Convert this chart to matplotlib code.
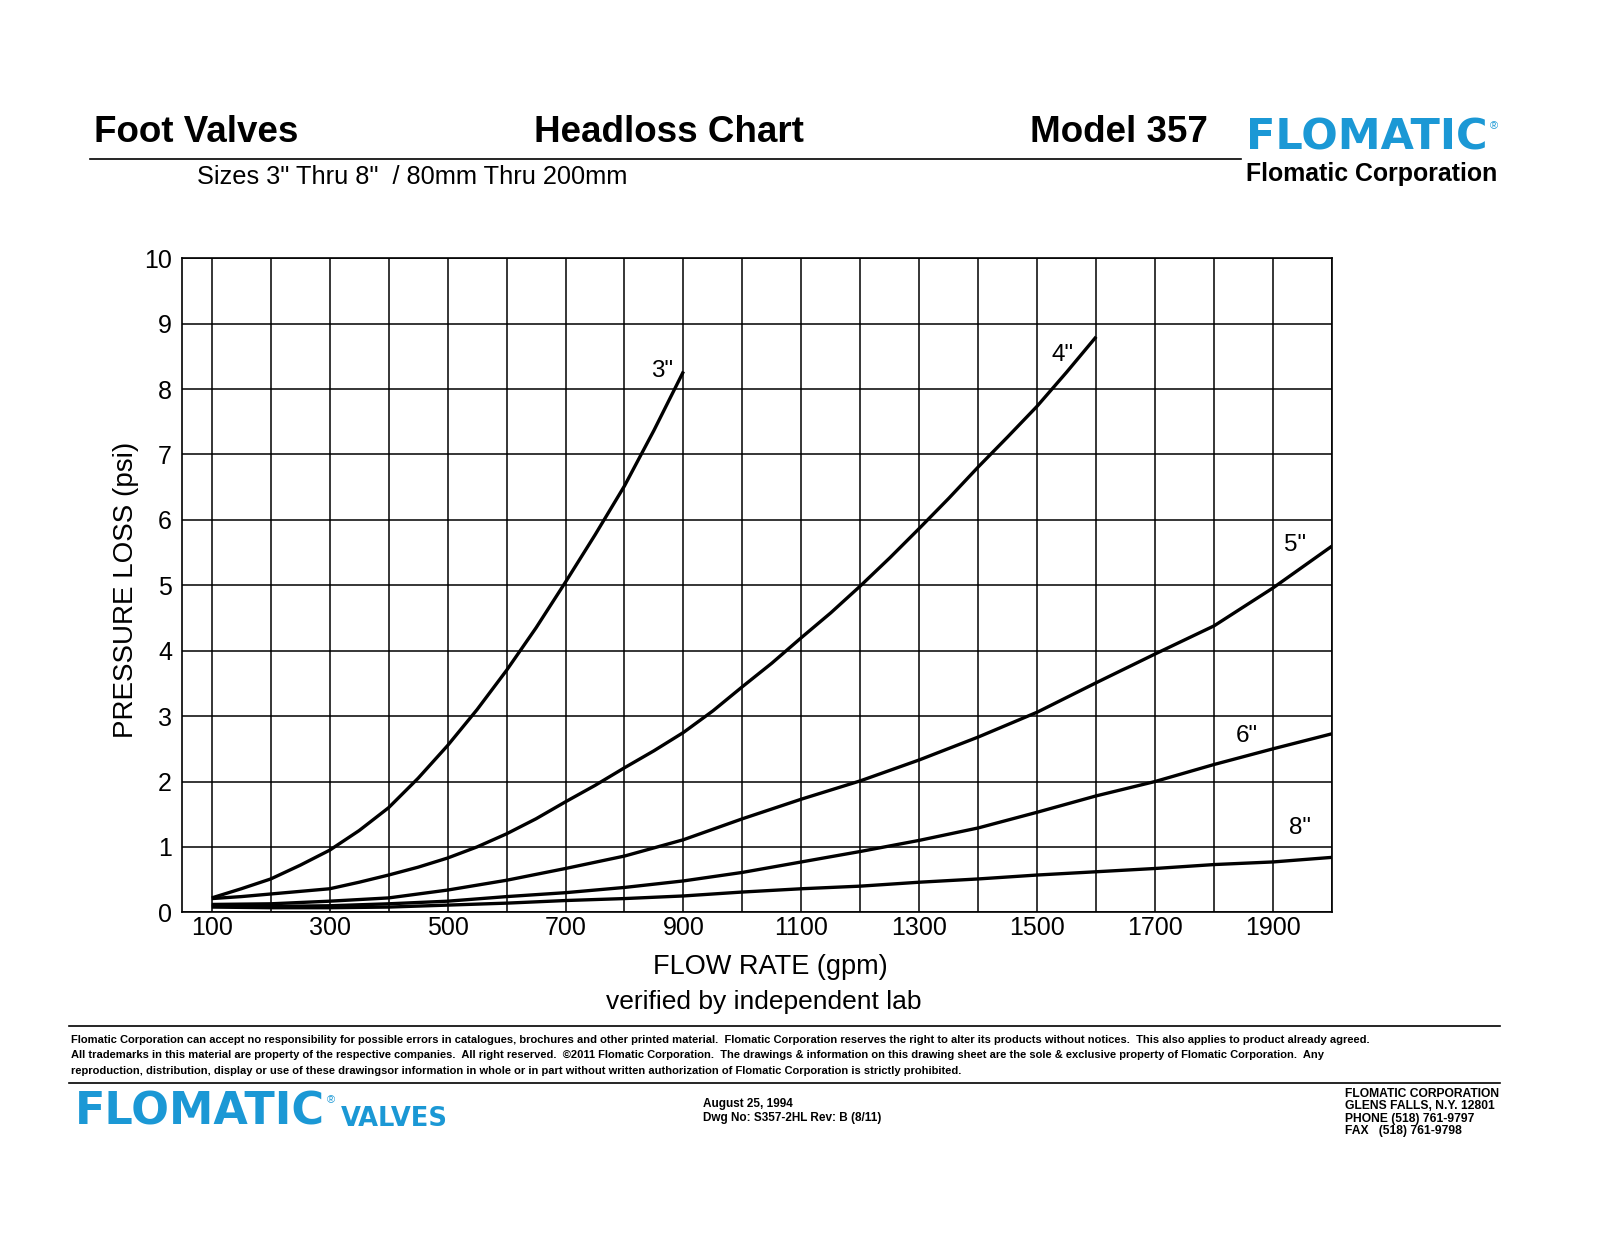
import matplotlib
matplotlib.use("Agg")
import matplotlib.pyplot as plt
from matplotlib.lines import Line2D

plt.rcParams['font.family'] = ['Liberation Sans', 'DejaVu Sans']

# ---------------- data ----------------
flow_3 = [100, 150, 200, 250, 300, 350, 400, 450, 500, 550, 600, 650, 700, 750, 800, 850, 900]
loss_3 = [0.22, 0.36, 0.51, 0.72, 0.95, 1.25, 1.60, 2.05, 2.55, 3.10, 3.70, 4.35, 5.05, 5.77,
          6.52, 7.37, 8.27]

flow_4 = [100, 150, 200, 250, 300, 350, 400, 450, 500, 550, 600, 650, 700, 750, 800, 850, 900,
          950, 1000, 1050, 1100, 1150, 1200, 1250, 1300, 1350, 1400, 1450, 1500, 1550, 1600]
loss_4 = [0.21, 0.24, 0.28, 0.32, 0.36, 0.46, 0.57, 0.69, 0.83, 1.00, 1.20, 1.43, 1.69, 1.94,
          2.21, 2.47, 2.75, 3.08, 3.45, 3.81, 4.20, 4.58, 4.99, 5.42, 5.87, 6.33, 6.81, 7.27,
          7.74, 8.26, 8.80]

flow_big = [100, 200, 300, 400, 500, 600, 700, 800, 900, 1000,
            1100, 1200, 1300, 1400, 1500, 1600, 1700, 1800, 1900, 2000]
loss_5 = [0.12, 0.13, 0.17, 0.22, 0.34, 0.49, 0.67, 0.86, 1.11, 1.43,
          1.73, 2.01, 2.33, 2.68, 3.06, 3.51, 3.95, 4.38, 4.96, 5.60]
loss_6 = [0.10, 0.09, 0.10, 0.13, 0.17, 0.24, 0.30, 0.38, 0.48, 0.61,
          0.77, 0.93, 1.10, 1.29, 1.53, 1.78, 2.00, 2.26, 2.50, 2.73]
loss_8 = [0.08, 0.07, 0.07, 0.08, 0.11, 0.14, 0.18, 0.21, 0.25, 0.31,
          0.36, 0.40, 0.46, 0.51, 0.57, 0.62, 0.67, 0.73, 0.77, 0.84]

series_labels = ['3"', '4"', '5"', '6"', '8"']
label_x = [863, 1543, 1937, 1856, 1946]
label_y = [8.28, 8.52, 5.61, 2.70, 1.29]

x_ticks = [100, 300, 500, 700, 900, 1100, 1300, 1500, 1700, 1900]
x_grid = list(range(100, 2001, 100))
y_ticks = [0, 1, 2, 3, 4, 5, 6, 7, 8, 9, 10]

BLUE = '#1b98d5'
W, H = 1600, 1237


def fx(px):
    return px / W


def fy(py):
    return 1 - py / H


fig = plt.figure(figsize=(16, 12.37), dpi=100)
fig.patch.set_facecolor('white')

# ---------------- axes ----------------
ax_l, ax_r, ax_t, ax_b = 182.3, 1332.0, 258.3, 912.3
ax = fig.add_axes([fx(ax_l), fy(ax_b), (ax_r - ax_l) / W, (ax_b - ax_t) / H])
ax.set_xlim(50, 2000)
ax.set_ylim(0, 10)

for gx in x_grid:
    ax.axvline(gx, color='black', lw=1.1, zorder=1)
for gy in y_ticks:
    ax.axhline(gy, color='black', lw=1.1, zorder=1)

ax.set_xticks(x_ticks)
ax.set_xticklabels([str(v) for v in x_ticks])
ax.set_yticks(y_ticks)
ax.set_yticklabels([str(v) for v in y_ticks])
ax.tick_params(axis='both', length=0, labelsize=18, colors='black')
ax.tick_params(axis='x', pad=3)
ax.tick_params(axis='y', pad=7.5)
for sp in ax.spines.values():
    sp.set_linewidth(1.2)
    sp.set_color('black')

lw = 2.4
for fl, ls in [(flow_3, loss_3), (flow_4, loss_4), (flow_big, loss_5),
               (flow_big, loss_6), (flow_big, loss_8)]:
    ax.plot(fl, ls, color='black', lw=lw, zorder=3, solid_capstyle='butt',
            solid_joinstyle='round')

for lab, lx, ly in zip(series_labels, label_x, label_y):
    ax.text(lx, ly, lab, fontsize=17.5, ha='center', va='center', zorder=4)

fig.text(fx(126), fy(590), 'PRESSURE LOSS (psi)', rotation=90, fontsize=20,
         ha='center', va='center')
fig.text(fx(770), fy(967), 'FLOW RATE (gpm)', fontsize=19.5, ha='center', va='center')
fig.text(fx(764), fy(1002), 'verified by independent lab', fontsize=19, ha='center',
         va='center')

# ---------------- header ----------------
fig.text(fx(94), fy(132), 'Foot Valves', fontsize=26.5, fontweight='bold',
         ha='left', va='center')
fig.text(fx(669), fy(132), 'Headloss Chart', fontsize=26.5, fontweight='bold',
         ha='center', va='center')
fig.text(fx(1208), fy(132), 'Model 357', fontsize=26.5, fontweight='bold',
         ha='right', va='center')
fig.add_artist(Line2D([fx(90), fx(1241)], [fy(159.3), fy(159.3)], color='black',
                      lw=1.2))
fig.text(fx(197), fy(177), 'Sizes 3" Thru 8"  / 80mm Thru 200mm', fontsize=18.3,
         ha='left', va='center')

logo_top = fig.text(fx(1246), fy(137), 'FLOMATIC', fontsize=31, fontweight='bold',
                    color=BLUE, ha='left', va='center', family=['DejaVu Sans'])
fig.text(fx(1246), fy(174), 'Flomatic Corporation', fontsize=17.9, fontweight='bold',
         ha='left', va='center')

# ---------------- footer ----------------
fig.add_artist(Line2D([fx(69), fx(1500)], [fy(1026), fy(1026)], color='black', lw=1.2))
fig.add_artist(Line2D([fx(69), fx(1500)], [fy(1083), fy(1083)], color='black', lw=1.2))

disclaimer = [
    'Flomatic Corporation can accept no responsibility for possible errors in catalogues, '
    'brochures and other printed material.  Flomatic Corporation reserves the right to alter '
    'its products without notices.  This also applies to product already agreed.',
    'All trademarks in this material are property of the respective companies.  All right '
    'reserved.  \u00a92011 Flomatic Corporation.  The drawings & information on this drawing '
    'sheet are the sole & exclusive property of Flomatic Corporation.  Any',
    'reproduction, distribution, display or use of these drawingsor information in whole or '
    'in part without written authorization of Flomatic Corporation is strictly prohibited.',
]
for i, line in enumerate(disclaimer):
    fig.text(fx(71), fy(1040 + 15.5 * i), line, fontsize=8.05, fontweight='bold',
             ha='left', va='center')

logo_bot = fig.text(fx(75), fy(1112), 'FLOMATIC', fontsize=32, fontweight='bold',
                    color=BLUE, ha='left', va='center', family=['DejaVu Sans'])
fig.text(fx(341), fy(1126), 'VALVES', fontsize=18.5, fontweight='bold', color=BLUE,
         ha='left', va='baseline', family=['DejaVu Sans'])

fig.text(fx(703), fy(1104), 'August 25, 1994', fontsize=8.5, fontweight='bold',
         ha='left', va='center')
fig.text(fx(703), fy(1118), 'Dwg No: S357-2HL Rev: B (8/11)', fontsize=8.5,
         fontweight='bold', ha='left', va='center')

addr = ['FLOMATIC CORPORATION', 'GLENS FALLS, N.Y. 12801', 'PHONE (518) 761-9797',
        'FAX   (518) 761-9798']
for i, line in enumerate(addr):
    fig.text(fx(1345), fy(1094 + 12.3 * i), line, fontsize=8.7, fontweight='bold',
             ha='left', va='center')

# registered marks placed right after the logo words
fig.canvas.draw()
inv = fig.transFigure.inverted()
for t in (logo_top, logo_bot):
    bb = t.get_window_extent()
    x1, y1 = inv.transform((bb.x1, bb.y1))
    fig.text(x1 + 2 / W, y1 - 5 / H, '®', fontsize=8, color=BLUE, ha='left', va='top')

fig.savefig('out.png', dpi=100, facecolor='white')
